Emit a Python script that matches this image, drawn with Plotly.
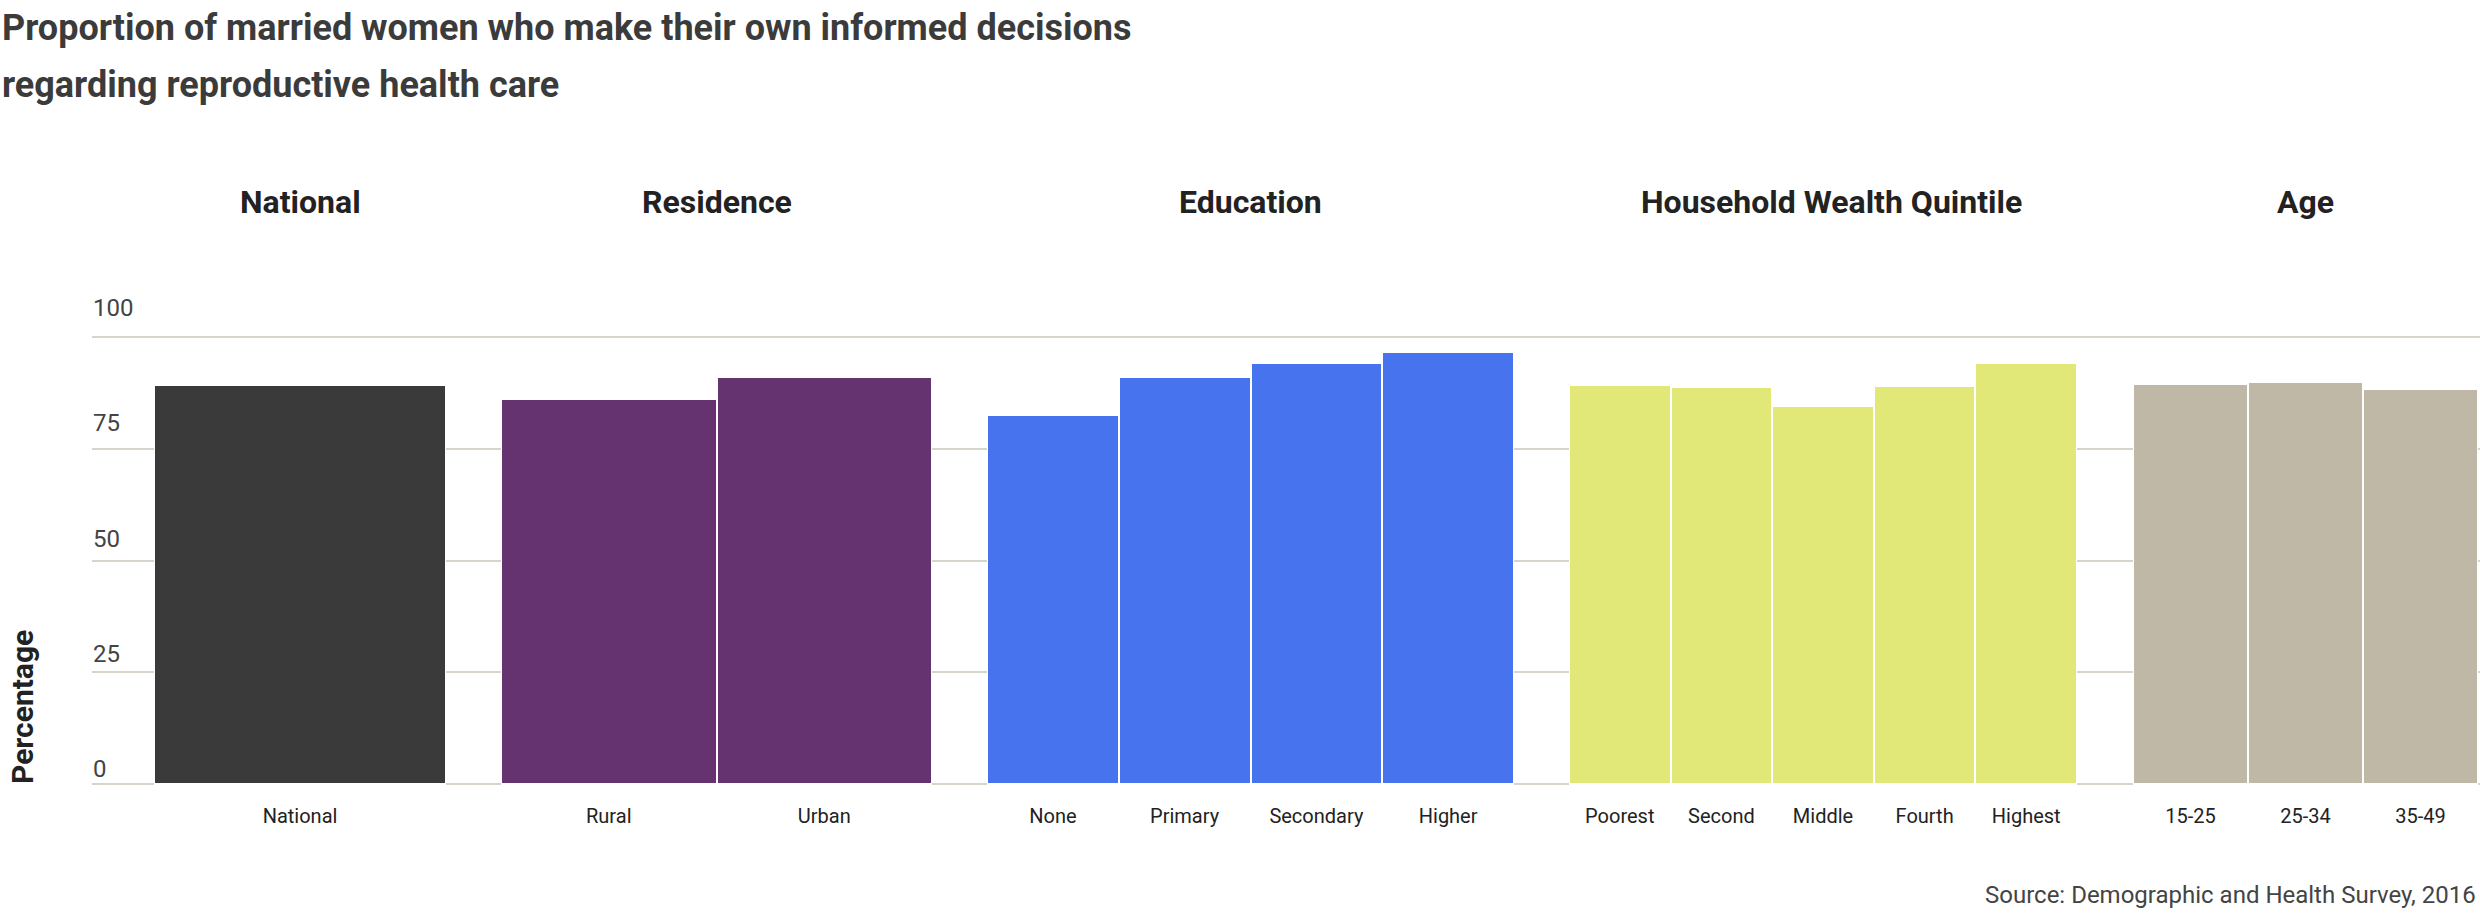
import plotly.graph_objects as go

W, H = 2480, 915

# ---- data ----
group_titles = ["National", "Residence", "Education", "Household Wealth Quintile", "Age"]
national_cats = ["National"]
national_vals = [89.2]
residence_cats = ["Rural", "Urban"]
residence_vals = [86.2, 91.0]
education_cats = ["None", "Primary", "Secondary", "Higher"]
education_vals = [82.5, 91.0, 94.3, 96.6]
wealth_cats = ["Poorest", "Second", "Middle", "Fourth", "Highest"]
wealth_vals = [89.3, 88.8, 84.6, 89.0, 94.2]
age_cats = ["15-25", "25-34", "35-49"]
age_vals = [89.6, 89.9, 88.5]
group_colors = ["#3a3a3a", "#653470", "#4873ee", "#e1e877", "#c0b8a6"]
y_ticks = [0, 25, 50, 75, 100]

groups = [
    (national_cats, national_vals),
    (residence_cats, residence_vals),
    (education_cats, education_vals),
    (wealth_cats, wealth_vals),
    (age_cats, age_vals),
]

# ---- layout geometry (pixels) ----
MT, MB = 290, 129
PH = H - MT - MB                 # plot area 290 .. 786 px
GRID_TOP = 335                   # top of the value axis domain (px)
facet_px = [(154, 446), (501, 932), (987, 1514), (1569, 2077), (2133, 2478)]
title_xshift = [0, 0, 0, 8, 0]
grid_left = 92


def py(px_y):
    """pixel y (from top) -> paper y"""
    return (H - MB - px_y) / PH


fig = go.Figure()

# invisible full-width subplot carrying the continuous gridlines
fig.add_trace(go.Scatter(x=[0, 1], y=[None, None], xaxis="x", yaxis="y",
                         showlegend=False, hoverinfo="skip"))
# invisible trace for the label-only axis
fig.add_trace(go.Scatter(x=[0, 1], y=[None, None], xaxis="x", yaxis="y2",
                         showlegend=False, hoverinfo="skip"))

layout = dict(
    width=W, height=H, autosize=False,
    margin=dict(l=0, r=0, t=MT, b=MB, pad=0),
    paper_bgcolor="white", plot_bgcolor="rgba(0,0,0,0)",
    showlegend=False, bargap=0,
    font=dict(family="Roboto", color="#222222"),
    xaxis=dict(domain=[grid_left / W, 1], range=[0, 1], visible=False, anchor="y"),
    yaxis=dict(domain=[0, py(GRID_TOP)], anchor="x", range=[-0.5, 100.5],
               tickmode="array", tickvals=y_ticks,
               showgrid=True, gridcolor="#d8d4ca", gridwidth=1.6,
               zeroline=False, showline=False, ticks="", showticklabels=False),
    # label-only axis: tick labels sit above their gridlines like the reference
    yaxis2=dict(domain=[0, 1], anchor="x", side="left",
                range=[-3.75, 103.8], tickmode="array", tickvals=y_ticks,
                ticktext=[str(t) for t in y_ticks],
                showgrid=False, zeroline=False, showline=False, ticks="",
                ticklabelposition="inside", ticklabelstandoff=-2,
                ticklabeloverflow="allow",
                tickfont=dict(family="Roboto", size=24, color="#444444")),
)

annotations = []
for i, ((cats, vals), color, (a, b), title, xs) in enumerate(
        zip(groups, group_colors, facet_px, group_titles, title_xshift)):
    n = i + 2
    fig.add_trace(go.Bar(
        x=cats, y=vals, xaxis=f"x{n}", yaxis="y", width=1,
        marker=dict(color=color, line=dict(color="white", width=2)),
        showlegend=False,
    ))
    layout[f"xaxis{n}"] = dict(
        domain=[a / W, b / W], anchor="y", type="category",
        range=[-0.5, len(cats) - 0.5],
        showgrid=False, zeroline=False, showline=False,
        ticks="outside", ticklen=12, tickcolor="rgba(0,0,0,0)",
        tickfont=dict(family="Roboto", size=20, color="#222222"),
    )
    annotations.append(dict(
        text=f"<b>{title}</b>", xref=f"x{n} domain", x=0.5, xshift=xs, yref="paper",
        y=py(202), xanchor="center", yanchor="middle", showarrow=False,
        font=dict(family="Roboto", size=32, color="#222222"),
    ))

annotations += [
    dict(text="<b>Proportion of married women who make their own informed decisions</b>",
         xref="paper", yref="paper", x=0, y=py(28), xanchor="left", yanchor="middle",
         showarrow=False, font=dict(family="Roboto", size=36, color="#3b3b3b")),
    dict(text="<b>regarding reproductive health care</b>",
         xref="paper", yref="paper", x=0, y=py(85), xanchor="left", yanchor="middle",
         showarrow=False, font=dict(family="Roboto", size=36, color="#3b3b3b")),
    dict(text="<b>Percentage</b>", xref="paper", yref="paper", x=22 / W, y=py(707),
         xanchor="center", yanchor="middle", textangle=-90, showarrow=False,
         font=dict(family="Roboto", size=30, color="#222222")),
    dict(text="Source: Demographic and Health Survey, 2016", xref="paper", yref="paper",
         x=2478 / W, y=py(895), xanchor="right", yanchor="middle", showarrow=False,
         font=dict(family="Roboto", size=24, color="#444444")),
]
layout["annotations"] = annotations
fig.update_layout(**layout)

fig.write_html("out.html", config={"displayModeBar": False},
               post_script="document.body.style.margin='0';")
